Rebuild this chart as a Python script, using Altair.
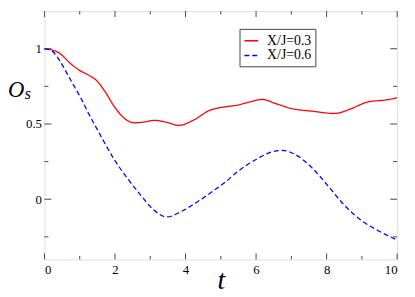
import altair as alt
import pandas as pd

# ---- data ----
red_t = [0, 0.2, 0.41, 0.78, 1.02, 1.25, 1.48, 1.71, 1.99, 2.27, 2.55, 2.8, 3.11, 3.45, 3.81,
         4.23, 4.69, 4.9, 5.16, 5.44, 5.81, 6.18, 6.56, 7.02, 7.58, 8.23, 8.70, 9.16, 9.72, 10]
red_y = [1.0, 0.993, 0.973, 0.893, 0.853, 0.825, 0.788, 0.718, 0.613, 0.537, 0.508, 0.512, 0.524,
         0.512, 0.491, 0.526, 0.591, 0.605, 0.615, 0.624, 0.646, 0.663, 0.635, 0.602, 0.585,
         0.570, 0.602, 0.646, 0.661, 0.674]

blue_t = [0, 0.22, 0.41, 0.60, 0.78, 1.02, 1.25, 1.48, 1.99, 2.37, 2.74, 3.11, 3.48, 3.85, 4.32,
          4.79, 5.16, 5.44, 6.0, 6.37, 6.74, 7.11, 7.58, 8.04, 8.51, 8.98, 9.44, 10]
blue_y = [1.0, 0.984, 0.93, 0.853, 0.777, 0.678, 0.570, 0.471, 0.26, 0.133, 0.024, -0.074, -0.118,
          -0.085, -0.02, 0.056, 0.12, 0.177, 0.264, 0.308, 0.325, 0.297, 0.210, 0.089, -0.042,
          -0.140, -0.206, -0.271]

series_names = ["X/J=0.3", "X/J=0.6"]
x_major = [0, 2, 4, 6, 8, 10]
x_minor = [1, 3, 5, 7, 9]
y_major = [0, 0.5, 1]
y_minor = [-0.25, 0.25, 0.75]

W, H = 358, 252
SERIF = "Liberation Serif"

df = pd.concat([
    pd.DataFrame({"t": red_t, "O": red_y, "series": series_names[0]}),
    pd.DataFrame({"t": blue_t, "O": blue_y, "series": series_names[1]}),
])

xs = alt.Scale(domain=[0, 10], nice=False, zero=False)
ys = alt.Scale(domain=[-0.4, 1.25], nice=False, zero=False)

leg = dict(title=None, orient="none", legendX=198, legendY=18,
           strokeColor="#444", fillColor="white", padding=4,
           labelFont=SERIF, labelFontSize=14, labelColor="black",
           symbolType="stroke", symbolSize=196, symbolStrokeWidth=1.5,
           labelOffset=8, rowPadding=0)

lines = alt.Chart(df).mark_line(strokeWidth=1.3, interpolate="monotone").encode(
    x=alt.X("t:Q", scale=xs,
            axis=alt.Axis(values=x_major, title="t", domain=False, ticks=False, grid=False,
                          tickSize=0, labelPadding=4, labelFont=SERIF, labelFontSize=13,
                          labelColor="black", titleFont=SERIF, titleFontStyle="italic",
                          titleFontSize=28, titleFontWeight="normal", titleColor="black",
                          titlePadding=-9)),
    y=alt.Y("O:Q", scale=ys,
            axis=alt.Axis(values=y_major, format="~g", title=None, domain=False, ticks=False,
                          grid=False, tickSize=0, labelPadding=3, labelFont=SERIF,
                          labelFontSize=13, labelColor="black")),
    color=alt.Color("series:N", scale=alt.Scale(domain=series_names, range=["#ff0000", "#0000ff"]),
                    legend=alt.Legend(**leg)),
    strokeDash=alt.StrokeDash("series:N",
                              scale=alt.Scale(domain=series_names, range=[[1, 0], [5, 3]]),
                              legend=alt.Legend(**leg)),
)

TICK = "#444"
xmaj = pd.DataFrame({"t": x_major})
xmin = pd.DataFrame({"t": x_minor})
ymaj = pd.DataFrame({"O": y_major})
ymin = pd.DataFrame({"O": y_minor})

def xticks(d, ln):
    base = alt.Chart(d).mark_rule(color=TICK, strokeWidth=1)
    bottom = base.encode(x=alt.X("t:Q", scale=xs), y=alt.value(H), y2=alt.value(H - ln))
    top = base.encode(x=alt.X("t:Q", scale=xs), y=alt.value(0), y2=alt.value(ln))
    return [bottom, top]

def yticks(d, ln):
    base = alt.Chart(d).mark_rule(color=TICK, strokeWidth=1)
    left = base.encode(y=alt.Y("O:Q", scale=ys), x=alt.value(0), x2=alt.value(ln))
    right = base.encode(y=alt.Y("O:Q", scale=ys), x=alt.value(W), x2=alt.value(W - ln))
    return [left, right]

tick_layers = xticks(xmaj, 6) + xticks(xmin, 3.5) + yticks(ymaj, 7) + yticks(ymin, 4)

ylab_O = alt.Chart(pd.DataFrame({"s": ["O"]})).mark_text(
    font=SERIF, fontStyle="italic", fontSize=23, align="left", baseline="alphabetic",
    color="black").encode(text="s:N", x=alt.value(-37), y=alt.value(87))
ylab_s = alt.Chart(pd.DataFrame({"s": ["s"]})).mark_text(
    font=SERIF, fontStyle="italic", fontSize=16, align="left", baseline="alphabetic",
    color="black").encode(text="s:N", x=alt.value(-20), y=alt.value(89))

chart = alt.layer(lines, *tick_layers, ylab_O, ylab_s).properties(
    width=W, height=H,
    autosize=alt.AutoSizeParams(type="none"),
    padding={"left": 37, "top": 1, "right": 10, "bottom": 36},
).configure_view(stroke="black", strokeWidth=1).configure(background="white")

chart.save("out.html", embed_options={"renderer": "svg", "actions": False})
